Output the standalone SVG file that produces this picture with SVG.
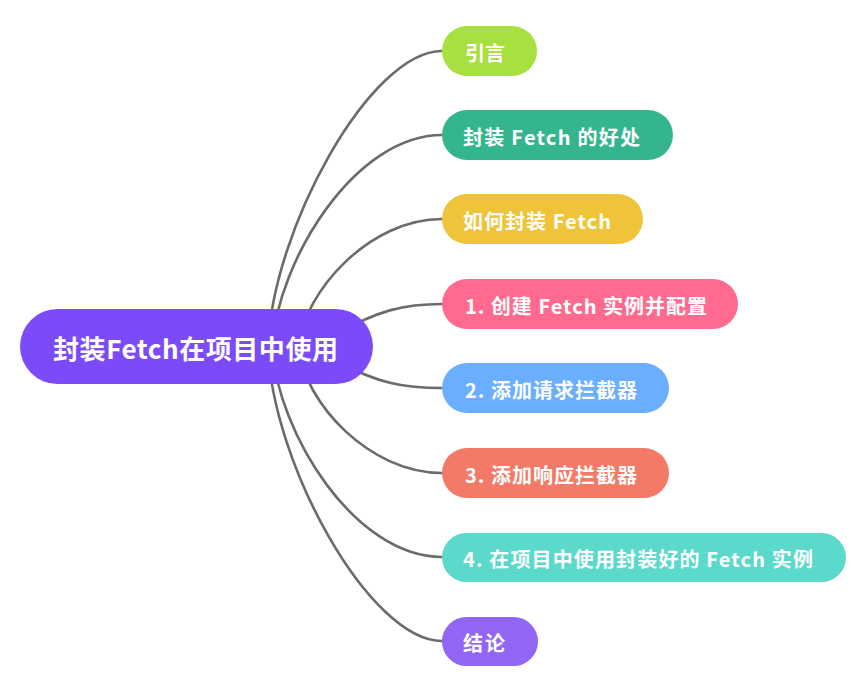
<svg xmlns="http://www.w3.org/2000/svg" width="861" height="694" viewBox="0 0 861 694">
<style>
.c{fill:none;stroke:#6b6b6b;stroke-width:2.6;stroke-linecap:round}
.t{font-family:"Noto Sans CJK SC","Noto Sans",sans-serif;font-weight:bold;fill:#fff;font-size:20px}
.r{font-size:26px}
</style>
<rect width="861" height="694" fill="#fff"/>
<g id="connectors">
<path class="c" d="M268,347 C272,230 370,51 442,51"/>
<path class="c" d="M272,347 C278,260 355,135 442,135"/>
<path class="c" d="M298,347 C305,290 370,219 442,219"/>
<path class="c" d="M335,335 C378,310 405,304 442,304"/>
<path class="c" d="M335,360 C378,384 405,388 442,388"/>
<path class="c" d="M298,347 C305,404 370,473 442,473"/>
<path class="c" d="M272,347 C278,434 355,557 442,557"/>
<path class="c" d="M268,347 C272,464 370,641 442,641"/>
</g>
<g id="root">
<rect x="20" y="309" width="353" height="75" rx="37.5" fill="#7b4bf9"/>
<text class="t r" x="53" y="359" textLength="285" lengthAdjust="spacing">封装Fetch在项目中使用</text>
</g>
<g id="n1">
<rect x="442" y="26" width="95" height="50" rx="25" fill="#a8e03f"/>
<text class="t" x="465" y="61" textLength="40" lengthAdjust="spacing">引言</text>
</g>
<g id="n2">
<rect x="442" y="110" width="231" height="50" rx="25" fill="#35b58e"/>
<text class="t" x="463" y="145" textLength="177" lengthAdjust="spacing">封装 Fetch 的好处</text>
</g>
<g id="n3">
<rect x="442" y="194" width="201" height="50" rx="25" fill="#f0c43a"/>
<text class="t" x="463" y="229" textLength="148" lengthAdjust="spacing">如何封装 Fetch</text>
</g>
<g id="n4">
<rect x="442" y="279" width="296" height="50" rx="25" fill="#ff6a8e"/>
<text class="t" x="465" y="314" textLength="242" lengthAdjust="spacing">1. 创建 Fetch 实例并配置</text>
</g>
<g id="n5">
<rect x="442" y="363" width="227" height="50" rx="25" fill="#6aafff"/>
<text class="t" x="465" y="398" textLength="172" lengthAdjust="spacing">2. 添加请求拦截器</text>
</g>
<g id="n6">
<rect x="442" y="448" width="227" height="50" rx="25" fill="#f27a66"/>
<text class="t" x="465" y="483" textLength="172" lengthAdjust="spacing">3. 添加响应拦截器</text>
</g>
<g id="n7">
<rect x="442" y="533" width="404" height="49" rx="24.5" fill="#5bd9cb"/>
<text class="t" x="463" y="567" textLength="350" lengthAdjust="spacing">4. 在项目中使用封装好的 Fetch 实例</text>
</g>
<g id="n8">
<rect x="442" y="617" width="96" height="49" rx="24.5" fill="#9166f5"/>
<text class="t" x="463" y="651" textLength="42" lengthAdjust="spacing">结论</text>
</g>
</svg>
